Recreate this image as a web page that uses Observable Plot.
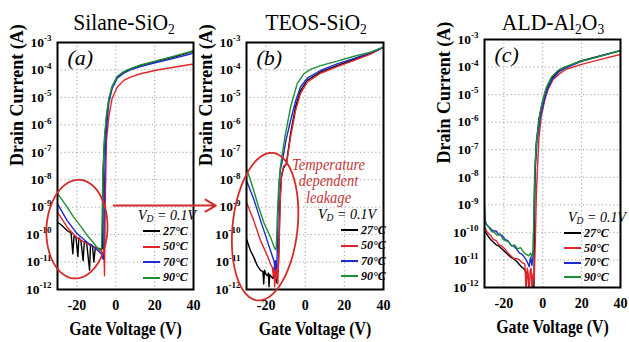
<!DOCTYPE html>
<html><head><meta charset="utf-8">
<script src="https://cdn.jsdelivr.net/npm/d3@7"></script>
<script src="https://cdn.jsdelivr.net/npm/@observablehq/plot@0.6"></script>
<style>
body{margin:0;background:#fff;}
#wrap{position:relative;width:629px;height:342px;overflow:hidden;font-family:"Liberation Serif",serif;color:#000;}
#wrap svg{position:absolute;left:0;top:0;overflow:visible;background:transparent;font-family:"Liberation Serif",serif;}
#wrap svg text, #wrap svg tspan{font-family:"Liberation Serif",serif !important;}
.title{position:absolute;top:9px;font-size:24px;line-height:26px;white-space:nowrap;transform:translateX(-50%) scaleX(0.9);}
.title sub{font-size:15px;vertical-align:-4px;line-height:0;}
.vd{position:absolute;font-style:italic;font-size:14px;line-height:15px;white-space:nowrap;}
.vd sub{font-size:9.5px;vertical-align:-2px;line-height:0;}
.row{position:absolute;height:14px;display:flex;align-items:center;font-style:italic;font-weight:bold;font-size:12px;white-space:nowrap;}
.sw{display:inline-block;width:17px;height:2px;margin-right:3px;}
</style>
</head><body>
<div id="wrap"></div>
<script>
// ---------- shared labels ----------
const tempLabels = ["27°C", "50°C", "70°C", "90°C"];
const tempColors = ["#000000", "#e0242a", "#1f2ccc", "#1f8f35"];
const xTicks = [-20, 0, 20, 40];
const yTicks = [1e-3, 1e-4, 1e-5, 1e-6, 1e-7, 1e-8, 1e-9, 1e-10, 1e-11, 1e-12];
const panelTitles = ["Silane-SiO<sub>2</sub>", "TEOS-SiO<sub>2</sub>", "ALD-Al<sub>2</sub>O<sub>3</sub>"];
const panelTags = ["(a)", "(b)", "(c)"];
const xTitle = "Gate Voltage (V)";
const yTitle = "Drain Current (A)";
const noteText = "Temperature\ndependent\nleakage";
const FONT = "Liberation Serif";

// ---------- data: gate voltage (V) and log10 drain current (A) ----------
// (a) Silane-SiO2
const aV27 = [-30,-28,-26.8,-25,-23,-22.1,-21.5,-20.5,-19.5,-19,-18,-16.8,-16.2,-15,-13.5,-13,-12,-11.3,-10.5,-9.6,-8.5,-7.5,-6.8,-6.5,-5.8,-4.8,-3.6,-1.9,0.7,4.1,7.6,12.7,21.3,29.9,38.4,40];
const aL27 = [-9.55,-9.65,-9.73,-9.85,-9.95,-10.7,-10.05,-10.1,-10.8,-10.12,-10.2,-10.95,-10.25,-10.3,-11.3,-10.35,-10.4,-11.0,-10.45,-10.5,-10.5,-10.55,-10.5,-7.7,-6.57,-5.72,-5.11,-4.63,-4.26,-4.08,-3.96,-3.84,-3.68,-3.53,-3.35,-3.3];
const aV50 = [-30,-25,-19.9,-14.7,-9.6,-7.5,-6.5,-6.0,-5.8,-5.6,-5.3,-5.0,-4.8,-3.6,-1.9,0.7,4.1,7.6,12.7,21.3,29.9,38.4,40];
const aL50 = [-9.18,-9.73,-10.12,-10.34,-10.5,-10.6,-10.75,-10.9,-11.5,-10.2,-8.4,-7.2,-6.57,-5.72,-5.04,-4.63,-4.38,-4.26,-4.14,-4.0,-3.9,-3.8,-3.79];
const aV70 = [-30,-25,-19.9,-14.7,-9.6,-7.5,-6.5,-6.2,-6.0,-5.8,-5.5,-5.0,-4.5,-3.6,-1.9,0.7,4.1,7.6,12.7,21.3,29.9,38.4,40];
const aL70 = [-8.88,-9.49,-9.97,-10.28,-10.55,-10.7,-10.9,-10.6,-9.5,-8.3,-7.3,-6.4,-5.9,-5.2,-4.68,-4.3,-4.12,-4.0,-3.88,-3.72,-3.58,-3.42,-3.38];
const aV90 = [-30,-28,-25,-21.6,-18,-14.7,-12,-9.6,-7.8,-7.3,-7.0,-6.8,-6.5,-5.8,-4.8,-3.6,-1.9,0.7,4.1,7.6,12.7,21.3,29.9,38.4,40];
const aL90 = [-8.51,-8.7,-9.0,-9.37,-9.7,-10.03,-10.25,-10.48,-10.55,-10.5,-9.3,-8.3,-7.5,-6.45,-5.65,-5.05,-4.6,-4.24,-4.06,-3.95,-3.82,-3.66,-3.5,-3.33,-3.28];

// (b) TEOS-SiO2
const bV27 = [-30,-28,-26.3,-24.5,-22.8,-21.6,-21.2,-20.8,-20,-19.4,-18.8,-18.5,-18.1,-17.7,-16.5,-15.8,-15.2,-14.7,-14.3,-13.8,-13.3,-12.8,-12.2,-11.2,-9.6,-7.5,-5,-2.4,1,7.8,16.3,25,33.4,40];
const bL27 = [-10.16,-10.58,-10.82,-11.13,-11.3,-11.35,-11.8,-11.3,-11.45,-11.5,-11.4,-11.9,-11.45,-11.5,-11.6,-11.35,-11.45,-11.75,-11.4,-11.3,-10.0,-8.6,-7.9,-7.6,-7.4,-6.33,-5.36,-4.75,-4.38,-4.08,-3.84,-3.62,-3.4,-3.17];
const bV50 = [-30,-26.3,-22.8,-19.4,-17.7,-16.8,-16.3,-16,-15.6,-15.2,-14.8,-14.4,-14.0,-13.4,-12.8,-12.0,-11.0,-9.6,-7.5,-5,-2.4,1,7.8,16.3,25,33.4,40];
const bL50 = [-8.82,-9.49,-10.22,-10.76,-11.07,-11.2,-11.5,-11.2,-11.9,-11.3,-11.6,-11.1,-11.8,-10.6,-8.8,-7.8,-7.5,-7.45,-6.45,-5.5,-4.85,-4.45,-4.12,-3.88,-3.65,-3.42,-3.17];
const bV70 = [-30,-26.3,-22.8,-19.4,-16.9,-15.8,-15.5,-15.2,-14.8,-14.4,-13.9,-13.3,-12.6,-11.5,-9.8,-7.5,-5,-2.4,1,7.8,16.3,25,33.4,40];
const bL70 = [-8.03,-8.7,-9.49,-10.22,-10.76,-11.0,-11.3,-10.95,-11.25,-10.9,-9.3,-8.1,-7.6,-7.25,-6.55,-5.85,-5.15,-4.62,-4.3,-4.02,-3.78,-3.58,-3.37,-3.17];
const bV90 = [-30,-28,-26.3,-24,-21.2,-19,-17.7,-16,-15.2,-14.8,-14.3,-13.6,-12.8,-11.8,-10.1,-7.5,-4.1,-0.7,2.7,7.8,16.3,25,33.4,40];
const bL90 = [-7.6,-8.0,-8.39,-8.95,-9.55,-9.9,-10.1,-10.43,-10.55,-10.5,-9.5,-8.3,-7.6,-7.1,-6.33,-5.36,-4.5,-4.14,-3.98,-3.84,-3.68,-3.5,-3.35,-3.17];

// (c) ALD-Al2O3
const cV27 = [-30,-28.5,-27,-25.5,-24,-22.5,-21,-19.5,-18,-16.5,-15,-13.5,-12.4,-11,-10,-9,-8,-7.4,-7.0,-5.5,-4.6,-4.3,-4.0,-3.4,-2.0,-0.3,1.5,4.0,7.5,11.5,19.5,27.9,40];
const cL27 = [-9.93,-10.1,-10.25,-10.35,-10.45,-10.5,-10.6,-10.7,-10.8,-10.9,-10.96,-11.05,-11.14,-11.25,-11.3,-11.4,-11.5,-11.7,-12.4,-12.4,-12.4,-10.2,-7.9,-6.8,-5.9,-5.3,-4.85,-4.45,-4.18,-4.02,-3.78,-3.62,-3.4];
const cV50 = [-30,-28.5,-27,-25.5,-24,-22.5,-21,-19.5,-18,-16.5,-15,-13.5,-12,-10.5,-9.2,-8.6,-8.0,-7.5,-7.0,-6.5,-6.0,-5.5,-5.0,-4.4,-3.8,-3.3,-2.8,-2.0,-0.8,1.0,2.8,5.3,8.5,12,19.5,27.9,40];
const cL50 = [-9.81,-10.0,-10.1,-10.25,-10.3,-10.45,-10.5,-10.6,-10.75,-10.85,-10.95,-10.95,-11.0,-11.1,-11.15,-12.2,-11.3,-11.5,-12.2,-11.4,-11.3,-12.2,-11.5,-11.7,-10.2,-8.6,-7.75,-6.6,-5.8,-5.2,-4.8,-4.45,-4.25,-4.08,-3.91,-3.76,-3.54];
const cV70 = [-30,-28.5,-27,-25.5,-24,-22.5,-21,-19.5,-18,-16.5,-15,-13.5,-12,-10.5,-9,-7.8,-7,-6.3,-5.6,-5.0,-4.5,-4.0,-3.0,-1.2,0.6,2.3,4.8,8.2,11.5,19.5,27.9,40];
const cL70 = [-9.63,-9.75,-9.85,-9.95,-9.95,-10.1,-10.1,-10.25,-10.3,-10.45,-10.5,-10.6,-10.75,-10.8,-10.95,-11.1,-11.25,-10.9,-11.2,-10.8,-9.0,-7.8,-6.7,-5.8,-5.25,-4.82,-4.45,-4.18,-4.04,-3.8,-3.64,-3.4];
const cV90 = [-30,-29.6,-29,-28,-26.5,-25,-23.5,-22,-20.5,-19,-17.5,-16,-14.5,-13,-11.5,-10,-8.5,-7.3,-6.3,-5.5,-4.9,-4.5,-4.2,-3.2,-1.5,0.2,1.9,4.4,7.8,11.1,19.5,27.9,40];
const cL90 = [-9.0,-9.55,-9.7,-9.8,-9.95,-10.0,-10.1,-10.05,-10.25,-10.3,-10.35,-10.5,-10.45,-10.6,-10.55,-10.7,-10.8,-10.85,-10.75,-10.9,-10.6,-9.2,-7.8,-6.66,-5.7,-5.15,-4.73,-4.37,-4.12,-4.0,-3.79,-3.64,-3.4];

// ---------- annotations (data units: V, log10 A) ----------
const ellipseA = {cx: -20.0, cy: -9.80, rx: 15.7, ry: 1.80, tilt: -3};
const ellipseB = {cx: -20.5, cy: -9.71, rx: 16.6, ry: 2.70, tilt: -6};
const arrowA = {x1: -1.0, x2: 51.5, y: -8.94};
const noteB = {x: 11.9, y: -8.05};
const annotColor = "#d42a2a";

// ---------- layout ----------
const layout = [
  {mL: 57, mR: 436, mT: 42, mB: 53, titleX: 124, legend: {vdX: 138, vdY: 216, swX: 143, rows: [231, 246.5, 262, 277.5]}},
  {mL: 246, mR: 246, mT: 42, mB: 53, titleX: 316, legend: {vdX: 318, vdY: 215, swX: 341, rows: [230, 245.5, 261, 276]}},
  {mL: 484, mR: 9, mT: 39, mB: 55, titleX: 553, legend: {vdX: 568, vdY: 218, swX: 564, rows: [233, 248, 262.5, 277]}}
];
const panelSeries = [
  [[aV27, aL27], [aV50, aL50], [aV70, aL70], [aV90, aL90]],
  [[bV27, bL27], [bV50, bL50], [bV70, bL70], [bV90, bL90]],
  [[cV27, cL27], [cV50, cL50], [cV70, cL70], [cV90, cL90]]
];

// px per unit, used to turn a pixel-space ellipse tilt into data space
const PX_PER_V = 1.95, PX_PER_DEC = 27.4;
function ellipsePoints(e) {
  const pts = [], th = e.tilt * Math.PI / 180, a = e.rx * PX_PER_V, b = e.ry * PX_PER_DEC;
  for (let k = 0; k <= 120; k++) {
    const t = 2 * Math.PI * k / 120;
    const dx = a * Math.cos(t) * Math.cos(th) - b * Math.sin(t) * Math.sin(th);
    const dy = a * Math.cos(t) * Math.sin(th) + b * Math.sin(t) * Math.cos(th);
    pts.push({V: e.cx + dx / PX_PER_V, I: 10 ** (e.cy + dy / PX_PER_DEC)});
  }
  return pts;
}

const wrap = document.getElementById("wrap");
const svgNS = "http://www.w3.org/2000/svg";

layout.forEach((L, p) => {
  const rows = [];
  panelSeries[p].forEach(([vs, ls], s) => vs.forEach((v, i) => rows.push({V: v, I: 10 ** ls[i], T: tempLabels[s]})));
  const marks = [
    Plot.gridX(xTicks.slice(0, 3), {stroke: "#8a8a8a", strokeOpacity: 0.8, strokeDasharray: "1.2,2.6"}),
    Plot.gridY(yTicks.slice(1, -1), {stroke: "#8a8a8a", strokeOpacity: 0.8, strokeDasharray: "1.2,2.6"}),
    Plot.axisX({ticks: xTicks, tickFormat: d => String(d), tickSize: 0, tickPadding: 11, fontSize: 14, fontWeight: "bold", fontFamily: FONT, label: null}),
    Plot.axisY({ticks: yTicks, tickFormat: d => String(Math.round(Math.log10(d))), tickSize: 0, tickPadding: 6, fontSize: 13.5, fontWeight: "bold", fontFamily: FONT, label: null}),
    Plot.line(rows, {x: "V", y: "I", z: "T", stroke: "T", strokeWidth: 1.4, clip: true}),
    Plot.frame({stroke: "#000", strokeWidth: 2}),
    Plot.text([panelTags[p]], {frameAnchor: "top-left", dx: 10, dy: 7, fontSize: 22, fontStyle: "italic", fontFamily: FONT, textAnchor: "start", lineAnchor: "top"}),
    Plot.text([yTitle], {frameAnchor: "left", rotate: -90, dx: -40, fontSize: 18, fontWeight: "bold", fontFamily: FONT}),
    Plot.text([xTitle], {frameAnchor: "bottom", dy: 45, fontSize: 18, fontWeight: "bold", fontFamily: FONT})
  ];
  if (p === 0) {
    marks.push(Plot.line(ellipsePoints(ellipseA), {x: "V", y: "I", stroke: annotColor, strokeWidth: 1.8}));
    marks.push(Plot.arrow([arrowA], {x1: "x1", x2: "x2", y1: d => 10 ** d.y, y2: d => 10 ** d.y, stroke: annotColor, strokeWidth: 2, headLength: 9}));
  }
  if (p === 1) {
    marks.push(Plot.line(ellipsePoints(ellipseB), {x: "V", y: "I", stroke: annotColor, strokeWidth: 1.8}));
    marks.push(Plot.text([noteText], {x: noteB.x, y: 10 ** noteB.y, fill: "#c23a3a", fontStyle: "italic", fontFamily: FONT, fontSize: 16.5, lineHeight: 1.02}));
  }
  const svg = Plot.plot({
    width: 629, height: 342,
    marginLeft: L.mL, marginRight: L.mR, marginTop: L.mT, marginBottom: L.mB,
    style: {background: "transparent", overflow: "visible", color: "#000"},
    x: {domain: [-30, 40]},
    y: {type: "log", domain: [1e-12, 1e-3]},
    color: {domain: tempLabels, range: tempColors},
    marks
  });
  svg.setAttribute("font-family", FONT);
  // superscript exponents on y tick labels
  svg.querySelectorAll('g[aria-label="y-axis tick label"] text').forEach(t => {
    const e = t.textContent;
    t.textContent = "10";
    const ts = document.createElementNS(svgNS, "tspan");
    ts.setAttribute("dy", "-5.5");
    ts.setAttribute("font-size", "9");
    ts.textContent = e;
    t.appendChild(ts);
  });
  // every SVG text in the serif face; condensed look of wide horizontal texts
  svg.querySelectorAll('text').forEach(t => {
    t.style.fontFamily = "'Liberation Serif', serif";
    if (t.textContent === xTitle || t.textContent.startsWith("Temperature")) {
      const tr = t.getAttribute("transform") || "";
      t.setAttribute("transform", tr + " scale(0.88,1)");
    }
  });
  wrap.appendChild(svg);

  // title
  const title = document.createElement("div");
  title.className = "title";
  title.style.left = L.titleX + "px";
  title.innerHTML = panelTitles[p];
  wrap.appendChild(title);

  // legend
  const lg = L.legend;
  const vd = document.createElement("div");
  vd.className = "vd";
  vd.style.left = lg.vdX + "px";
  vd.style.top = (lg.vdY - 8) + "px";
  vd.innerHTML = "V<sub>D</sub> = 0.1V";
  wrap.appendChild(vd);
  tempLabels.forEach((lab, i) => {
    const r = document.createElement("div");
    r.className = "row";
    r.style.left = lg.swX + "px";
    r.style.top = (lg.rows[i] - 7) + "px";
    r.innerHTML = `<span class="sw" style="background:${tempColors[i]}"></span>${lab}`;
    wrap.appendChild(r);
  });
});
</script>
</body></html>
